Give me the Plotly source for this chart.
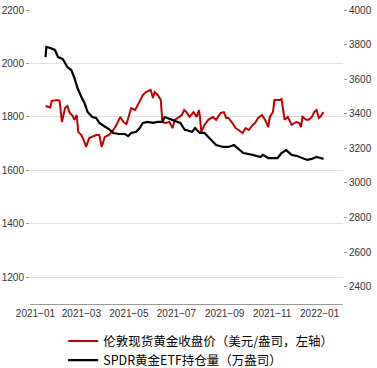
import plotly.graph_objects as go

# 伦敦现货黄金收盘价 (left axis)
gold_dates = ["2021-01-14","2021-01-20","2021-01-22","2021-01-30","2021-02-01","2021-02-04","2021-02-08","2021-02-11",
              "2021-02-14","2021-02-18","2021-02-20","2021-02-23","2021-02-25","2021-03-01","2021-03-05","2021-03-07",
              "2021-03-11","2021-03-15","2021-03-20","2021-03-24","2021-03-27","2021-03-31","2021-04-05","2021-04-11",
              "2021-04-15","2021-04-20","2021-04-24","2021-04-28","2021-05-04","2021-05-09","2021-05-15","2021-05-19",
              "2021-05-23","2021-05-29","2021-06-01","2021-06-03","2021-06-07","2021-06-11","2021-06-13","2021-06-17",
              "2021-06-22","2021-06-26","2021-06-29","2021-07-04","2021-07-08","2021-07-11","2021-07-14","2021-07-18",
              "2021-07-23","2021-07-27","2021-07-30","2021-07-31","2021-08-02","2021-08-06","2021-08-11","2021-08-17",
              "2021-08-21","2021-08-27","2021-08-31","2021-09-03","2021-09-06","2021-09-11","2021-09-15","2021-09-19",
              "2021-09-24","2021-09-28","2021-10-02","2021-10-07","2021-10-10","2021-10-14","2021-10-19","2021-10-23",
              "2021-10-27","2021-10-29","2021-11-02","2021-11-04","2021-11-11","2021-11-13","2021-11-17","2021-11-21",
              "2021-11-26","2021-12-02","2021-12-06","2021-12-08","2021-12-10","2021-12-15","2021-12-18","2021-12-22",
              "2021-12-25","2021-12-28","2021-12-31","2022-01-02","2022-01-06"]
gold_price = [1841,1835,1860,1863,1860,1781,1833,1841,1815,1803,1789,1807,1744,1732,1706,1688,
              1721,1725,1732,1732,1688,1725,1732,1751,1770,1800,1781,1774,1833,1826,1863,1882,
              1893,1901,1871,1893,1882,1863,1781,1777,1781,1758,1789,1800,1807,1826,1818,1800,
              1818,1800,1826,1807,1744,1770,1789,1800,1789,1815,1818,1796,1796,1777,1758,1751,
              1740,1758,1751,1770,1777,1796,1807,1789,1762,1800,1818,1863,1863,1867,1789,1800,
              1770,1781,1777,1762,1800,1789,1789,1800,1818,1826,1796,1800,1818]

# SPDR黄金ETF持仓量 (right axis)
etf_dates = ["2021-01-14","2021-01-15","2021-01-20","2021-01-26","2021-01-30","2021-02-05","2021-02-11","2021-02-16",
             "2021-02-20","2021-02-24","2021-03-01","2021-03-05","2021-03-09","2021-03-15","2021-03-20","2021-03-24",
             "2021-03-30","2021-04-05","2021-04-11","2021-04-18","2021-04-26","2021-04-30","2021-05-04","2021-05-10",
             "2021-05-15","2021-05-19","2021-05-25","2021-06-01","2021-06-07","2021-06-13","2021-06-16","2021-06-19",
             "2021-06-28","2021-07-06","2021-07-12","2021-07-14","2021-07-21","2021-07-25","2021-07-31","2021-08-06",
             "2021-08-11","2021-08-17","2021-08-21","2021-08-30","2021-09-06","2021-09-13","2021-09-18","2021-09-25",
             "2021-10-07","2021-10-17","2021-10-20","2021-10-27","2021-11-08","2021-11-13","2021-11-19","2021-11-26",
             "2021-12-03","2021-12-10","2021-12-16","2021-12-22","2021-12-28","2022-01-02","2022-01-06"]
etf_holdings = [3728,3786,3780,3769,3728,3717,3670,3653,3607,3549,3497,3462,3410,3381,3376,3347,
                3329,3312,3289,3283,3283,3271,3289,3295,3318,3347,3353,3347,3353,3353,3381,3376,
                3364,3347,3306,3306,3295,3318,3289,3289,3266,3237,3219,3208,3208,3219,3202,3173,
                3162,3150,3162,3144,3144,3173,3190,3162,3156,3144,3133,3139,3150,3144,3139]

tick_vals = ["2021-01-01","2021-03-01","2021-05-01","2021-07-01","2021-09-01","2021-11-01","2022-01-01"]
tick_text = ["2021\u221201","2021\u221203","2021\u221205","2021\u221207","2021\u221209","2021\u221211","2022\u221201"]
left_ticks = [1200, 1400, 1600, 1800, 2000, 2200]
right_ticks = [2400, 2600, 2800, 3000, 3200, 3400, 3600, 3800, 4000]

fig = go.Figure()
fig.add_trace(go.Scatter(x=gold_dates, y=gold_price, mode="lines",
                         name="伦敦现货黄金收盘价（美元/盎司，左轴）",
                         line=dict(color="#c00000", width=2)))
fig.add_trace(go.Scatter(x=etf_dates, y=etf_holdings, mode="lines",
                         name="SPDR黄金ETF持仓量（万盎司）", yaxis="y2",
                         line=dict(color="#000000", width=2.2)))

axis_font = dict(family="Liberation Sans, Arial, sans-serif", size=10, color="#333")
fig.update_layout(
    width=377, height=368,
    margin=dict(l=30, r=34, t=10, b=64, autoexpand=False),
    paper_bgcolor="white", plot_bgcolor="white",
    showlegend=True,
    legend=dict(x=0.106, y=-0.076, xanchor="left", yanchor="top", orientation="v",
                font=dict(family="Noto Sans CJK SC", size=12.5, color="#000"),
                bgcolor="rgba(0,0,0,0)", tracegroupgap=0),
    xaxis=dict(type="date", range=["2020-12-25", "2022-01-31"],
               tickvals=tick_vals, ticktext=tick_text, tickfont=axis_font,
               showgrid=False, showline=True, linecolor="#999", linewidth=1,
               ticks="", zeroline=False, automargin=False),
    yaxis=dict(range=[1100, 2200], tickvals=left_ticks,
               tickfont=axis_font, showgrid=True, gridcolor="#e0e0e0", gridwidth=1,
               ticks="outside", ticklen=3, tickcolor="#999", zeroline=False, showline=False,
               automargin=False),
    yaxis2=dict(range=[2300, 4000], tickvals=right_ticks,
                overlaying="y", side="right", tickfont=axis_font, showgrid=False,
                ticks="outside", ticklen=3, tickcolor="#999", zeroline=False, showline=False,
                automargin=False),
)

fig.write_html("out.html", config={"displayModeBar": False},
               post_script="document.body.style.margin='0';document.body.style.padding='0';")
